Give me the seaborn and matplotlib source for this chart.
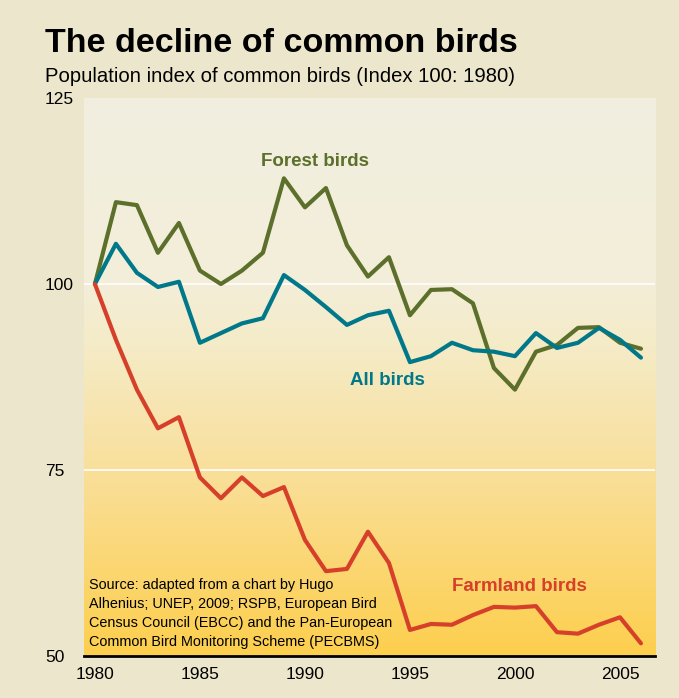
import numpy as np
import pandas as pd
import matplotlib
matplotlib.use('Agg')
import matplotlib.pyplot as plt
from matplotlib.colors import LinearSegmentedColormap
import seaborn as sns

years = list(range(1980, 2007))
forest = [100, 111, 110.6, 104.2, 108.2, 101.8, 100, 101.8, 104.2, 114.2, 110.3, 112.9, 105.2,
          101, 103.6, 95.8, 99.2, 99.3, 97.4, 88.7, 85.8, 90.9, 91.8, 94.1, 94.2, 92.1, 91.3]
all_birds = [100, 105.4, 101.5, 99.6, 100.3, 92.1, 93.4, 94.7, 95.4, 101.2, 99.2, 96.9, 94.5,
             95.8, 96.4, 89.5, 90.3, 92.1, 91.1, 90.9, 90.3, 93.4, 91.4, 92.1, 94.1, 92.5, 90.1]
farmland = [100, 92.5, 85.8, 80.6, 82.1, 74, 71.2, 74, 71.5, 72.7, 65.6, 61.4, 61.7,
            66.7, 62.5, 53.5, 54.3, 54.2, 55.5, 56.6, 56.5, 56.7, 53.2, 53, 54.2, 55.2, 51.7]

colors = {'Forest birds': '#5c6f2b', 'All birds': '#00788a', 'Farmland birds': '#d6402a'}

df = pd.concat([
    pd.DataFrame({'year': years, 'index': forest, 'group': 'Forest birds'}),
    pd.DataFrame({'year': years, 'index': all_birds, 'group': 'All birds'}),
    pd.DataFrame({'year': years, 'index': farmland, 'group': 'Farmland birds'}),
])

plt.rcParams['font.family'] = ['Liberation Sans', 'DejaVu Sans']

fig = plt.figure(figsize=(6.79, 6.98), dpi=100)
fig.patch.set_facecolor('#ece7cc')
ax = fig.add_axes([0.1237, 0.0602, 0.841, 0.7994])

x0, x1 = 1979.48, 2006.67
ax.set_xlim(x0, x1)
ax.set_ylim(50, 125)

# background gradient, yellow at the bottom fading to cream at the top
cmap = LinearSegmentedColormap.from_list(
    'bg', [(0, '#fdcf4d'), (0.33, '#f9df9a'), (0.55, '#f5ebc6'), (0.67, '#f3eed9'), (1, '#f2efe0')])
grad = np.linspace(0, 1, 256).reshape(-1, 1)
ax.imshow(grad, extent=[x0, x1, 50, 125], aspect='auto', cmap=cmap, origin='lower', zorder=0)

for y in [75, 100]:
    ax.axhline(y, color='white', lw=1.2, zorder=1)

sns.lineplot(data=df, x='year', y='index', hue='group', palette=colors, linewidth=3.0,
             legend=False, ax=ax, zorder=3)
for line in ax.get_lines()[2:]:
    line.set_solid_joinstyle('round')
    line.set_solid_capstyle('round')

for s in ['top', 'right', 'left']:
    ax.spines[s].set_visible(False)
ax.spines['bottom'].set_linewidth(2)
ax.spines['bottom'].set_color('black')
ax.spines['bottom'].set_zorder(4)

ax.set_xticks([1980, 1985, 1990, 1995, 2000, 2005])
ax.set_yticks([50, 75, 100, 125])
ax.tick_params(axis='x', length=0, pad=8, labelsize=12.5)
ax.tick_params(axis='y', length=0, pad=28, labelsize=12.5)
for lab in ax.get_yticklabels():
    lab.set_horizontalalignment('left')
ax.set_xlabel('')
ax.set_ylabel('')

ax.text(1990.5, 116.5, 'Forest birds', color=colors['Forest birds'], fontsize=13.5,
        fontweight='bold', ha='center', va='center')
ax.text(1993.95, 87.0, 'All birds', color=colors['All birds'], fontsize=13.5,
        fontweight='bold', ha='center', va='center')
ax.text(2000.2, 59.3, 'Farmland birds', color=colors['Farmland birds'], fontsize=13.5,
        fontweight='bold', ha='center', va='center')

ax.text(1979.7, 51.0, 'Source: adapted from a chart by Hugo\nAlhenius; UNEP, 2009; RSPB, European Bird\n'
        'Census Council (EBCC) and the Pan-European\nCommon Bird Monitoring Scheme (PECBMS)',
        fontsize=10.4, ha='left', va='bottom', linespacing=1.45)

fig.text(45 / 679, 1 - 43 / 698, 'The decline of common birds', fontsize=24.5, fontweight='bold',
         ha='left', va='center')
fig.text(45 / 679, 1 - 77 / 698, 'Population index of common birds (Index 100: 1980)', fontsize=14.6,
         ha='left', va='center')

fig.savefig('out.png', dpi=100, facecolor=fig.get_facecolor())
